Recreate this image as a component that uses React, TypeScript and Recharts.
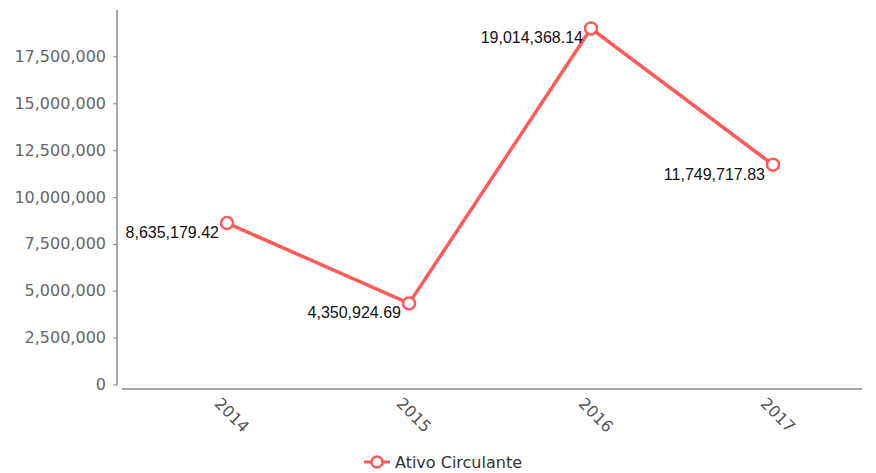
import { LineChart, Line, XAxis, YAxis, Legend, LabelList, ReferenceLine } from "recharts";

const years = ["2014", "2015", "2016", "2017"];
const ativoCirculante = [8635179.42, 4350924.69, 19014368.14, 11749717.83];
const yTicks = [0, 2500000, 5000000, 7500000, 10000000, 12500000, 15000000, 17500000];

const data = years.map((year, i) => ({ year, value: ativoCirculante[i] }));

const RED = "#ff5a5a";
const AXIS = "#8a8a8a";

const fmtTick = (v: number) => v.toLocaleString("en-US");
const fmtLabel = (v: number) =>
  v.toLocaleString("en-US", { minimumFractionDigits: 2, maximumFractionDigits: 2 });

const YTick = (props: any) => {
  const { y, payload } = props;
  return (
    <text x={106} y={y} dy={5} textAnchor="end" fill="#666" fontSize={16} fontFamily="DejaVu Sans">
      {fmtTick(payload.value)}
    </text>
  );
};

const XTick = (props: any) => {
  const { x, y, payload } = props;
  const ax = x + 1;
  const ay = y + 34;
  return (
    <text
      x={ax}
      y={ay}
      textAnchor="middle"
      transform={`rotate(45, ${ax}, ${ay})`}
      fill="#555"
      fontSize={16}
      fontFamily="DejaVu Sans"
    >
      {payload.value}
    </text>
  );
};

const PointLabel = (props: any) => {
  const { x, y, value } = props;
  return (
    <text x={x - 8} y={y + 15} textAnchor="end" fill="#111" fontSize={16} fontFamily="Liberation Sans">
      {fmtLabel(value)}
    </text>
  );
};

const LegendContent = () => (
  <div
    style={{
      display: "flex",
      justifyContent: "center",
      alignItems: "center",
      height: 22,
      paddingLeft: 24,
    }}
  >
    <svg width={26} height={16}>
      <line x1={0} y1={8} x2={26} y2={8} stroke={RED} strokeWidth={3} />
      <circle cx={13} cy={8} r={5.5} fill="#fff" stroke={RED} strokeWidth={2.5} />
    </svg>
    <span style={{ marginLeft: 5, fontSize: 16, fontFamily: "DejaVu Sans", color: "#333" }}>
      Ativo Circulante
    </span>
  </div>
);

export default function App() {
  return (
    <div style={{ position: "absolute", left: 0, top: 0, background: "#fff" }}>
      <LineChart width={876} height={473} data={data} margin={{ top: 10, right: 14, bottom: 0, left: 0 }}>
        <XAxis
          dataKey="year"
          height={66}
          padding={{ left: 105, right: 89 }}
          axisLine={{ stroke: AXIS, strokeWidth: 1.5, transform: "translate(0,4)" }}
          tickLine={false}
          tickSize={0}
          tickMargin={0}
          tick={<XTick />}
          interval={0}
        />
        <YAxis
          width={122}
          domain={[0, 20000000]}
          ticks={yTicks}
          allowDataOverflow
          axisLine={{ stroke: AXIS, strokeWidth: 1.5, transform: "translate(-5,0)" }}
          tickLine={{ stroke: AXIS, transform: "translate(-5,0)" }}
          tickSize={4}
          tick={<YTick />}
        />
        <ReferenceLine y={0} stroke="#e8e8e8" strokeWidth={1} />
        <Legend verticalAlign="bottom" content={<LegendContent />} />
        <Line
          type="linear"
          dataKey="value"
          name="Ativo Circulante"
          stroke={RED}
          strokeWidth={3.5}
          dot={{ r: 6, fill: "#fff", stroke: RED, strokeWidth: 2.5 }}
          activeDot={false}
          isAnimationActive={false}
        >
          <LabelList dataKey="value" content={<PointLabel />} />
        </Line>
      </LineChart>
    </div>
  );
}
